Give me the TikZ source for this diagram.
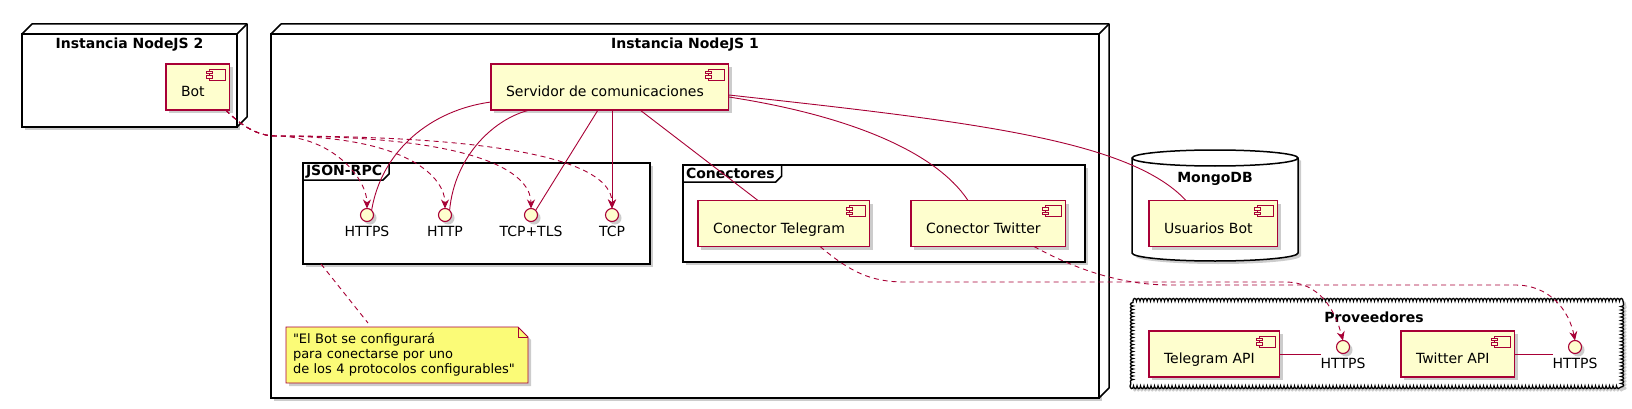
\documentclass[tikz,border=0pt]{standalone}
\usepackage{fontspec}
\setmainfont{DejaVu Sans}
\newfontfamily\plainfam{DejaVu Sans}
\usetikzlibrary{arrows.meta,positioning,shadows,decorations.pathmorphing}

\definecolor{umlred}{HTML}{A80036}
\definecolor{umlfill}{HTML}{FEFECE}
\definecolor{notefill}{HTML}{FBFB77}
\newcommand{\txtfont}{\fontsize{14}{17}\selectfont}
\newcommand{\ttlfont}{\fontsize{14}{17}\selectfont\bfseries}
\newcommand{\notefont}{\plainfam\fontsize{13}{15}\selectfont}

\begin{document}
\begin{tikzpicture}[x=1pt,y=-1pt,every node/.style={outer sep=0pt},
 umlshadow/.style={drop shadow={shadow xshift=3pt,shadow yshift=-3pt,opacity=0.2,fill=black}},
 nodebox/.style={draw,line width=1.5pt,fill=white,umlshadow,anchor=north west,inner sep=0pt},
 pkgframe/.style={draw,line width=1.5pt,fill=white,umlshadow,anchor=north west,inner sep=0pt},
 pkgtab/.style={font=\ttlfont,anchor=north west,inner xsep=3pt,inner ysep=0pt,
  minimum height=17pt,execute at end node={\hspace*{4pt}}},
 nodetitle/.style={font=\ttlfont,inner sep=0pt},
 comp/.style={draw=umlred,fill=umlfill,line width=1.1pt,umlshadow,anchor=west,
  minimum height=46pt,inner xsep=0pt,text height=22pt,text depth=3pt,font=\txtfont,
  execute at begin node={\hspace*{15pt}},execute at end node={\hspace*{25pt}}},
 iface/.style={circle,draw=umlred,fill=umlfill,line width=1.1pt,minimum size=13pt,
  inner sep=0pt,umlshadow},
 ilabel/.style={font=\txtfont,inner sep=0pt},
 link/.style={umlred,line width=0.9pt},
 arrowtip/.style={-{Stealth[length=9pt,width=8pt,inset=3pt]}},
 dep/.style={link,arrowtip,dash pattern=on 5pt off 4pt},
 compicon/.pic={
  \draw[umlred,fill=umlfill,line width=0.9pt] (-16,0) rectangle (0,11);
  \draw[umlred,fill=umlfill,line width=0.9pt] (-19,2) rectangle (-13,4.5)
   (-19,6.5) rectangle (-13,9);}]

  \useasboundingbox (0,0) rectangle (1632,409);

  % nodos de despliegue
  \node[nodebox,minimum width=215pt,minimum height=93pt] (nj2) at (22,34) {};
  \node[nodebox,minimum width=828pt,minimum height=364pt] (nj1) at (271,34) {};
  \foreach \n in {nj2,nj1}
  {\draw[line width=1.5pt,fill=white,line join=round] (\n.north west) -- ++(10,-10)
    -| ([shift={(10pt,10pt)}]\n.south east) -- (\n.south east) -- (\n.north east) -- cycle;
   \draw[line width=1.5pt] (\n.north east) -- ++(10,-10);
  }
  \node[nodetitle] (nj2lbl) at ([yshift=-11pt]nj2.north) {Instancia NodeJS 2};
  \node[nodetitle] (nj1lbl) at ([yshift=-11pt]nj1.north) {Instancia NodeJS 1};

  % nota
  \draw[draw=umlred,fill=notefill,line width=0.9pt,umlshadow] (286,327) -- (518,327)
   -- (528,337) -- (528,383) -- (286,383) -- cycle;
  \draw[umlred,line width=0.9pt] (518,327) |- (528,337);
  \node[font=\notefont,align=left,anchor=north west,text width=228pt,inner xsep=7pt,
   inner ysep=0pt,minimum height=56pt] (note) at (286,327)
   {"El Bot se configurará\\para conectarse por uno\\de los 4 protocolos configurables"};

  % paquetes
  \node[pkgframe,minimum width=347pt,minimum height=101pt] (jrpc) at (303,163) {};
  \node[pkgtab] (jrpctab) at (jrpc.north west) {JSON-RPC};
  \node[pkgframe,minimum width=402pt,minimum height=97pt] (conn) at (683,165) {};
  \node[pkgtab] (conntab) at (conn.north west) {Conectores};
  \foreach \t in {jrpctab,conntab}
   \draw[line width=1.5pt] (\t.north east) -- ([yshift=6pt]\t.south east)
    -- ([xshift=-6pt]\t.south east) -- (\t.south west);

  % base de datos
  \draw[line width=1.5pt,fill=white,umlshadow] (1132,158)
   arc[start angle=180,end angle=0,x radius=83pt,y radius=8pt] -- (1298,253)
   arc[start angle=0,end angle=-180,x radius=83pt,y radius=8pt] -- cycle;
  \draw[line width=1.5pt] (1132,158) arc[start angle=180,end angle=360,x radius=83pt,y radius=8pt];
  \node[nodetitle] (mongolbl) at (1215,179) {MongoDB};

  % nube
  \draw[line width=1.3pt,fill=white,umlshadow,decorate,
   decoration={bumps,segment length=7pt,amplitude=2.6pt}]
   (1133,301) -- (1621,301) -- (1621,386) -- (1133,386) -- cycle;
  \node[nodetitle] (provlbl) at (1374,317) {Proveedores};

  % componentes
  \node[comp] (bot) at (166,87) {Bot};
  \node[comp] (serv) at (491,87) {Servidor de comunicaciones};
  \node[comp] (ctel) at (698,223.5) {Conector Telegram};
  \node[comp] (ctw) at (911,223.5) {Conector Twitter};
  \node[comp] (ubot) at (1149,223.5) {Usuarios Bot};
  \node[comp] (tgapi) at (1149,354) {Telegram API};
  \node[comp] (twapi) at (1401,354) {Twitter API};
  \foreach \c in {bot,serv,ctel,ctw,ubot,tgapi,twapi}
   \pic at ([xshift=-4pt,yshift=-5pt]\c.north east) {compicon};

  % interfaces
  \node[iface] (ihttps) at (367,215) {};
  \node[iface] (ihttp) at (445,215) {};
  \node[iface] (itls) at (531,215) {};
  \node[iface] (itcp) at (612,215) {};
  \node[iface] (pvtel) at (1343,347) {};
  \node[iface] (pvtw) at (1575,347) {};
  \node[ilabel,below=5pt of ihttps] (ihttpslbl) {HTTPS};
  \node[ilabel,below=5pt of ihttp] (ihttplbl) {HTTP};
  \node[ilabel,below=5pt of itls] (itlslbl) {TCP+TLS};
  \node[ilabel,below=5pt of itcp] (itcplbl) {TCP};
  \node[ilabel,below=4.5pt of pvtel] (pvtellbl) {HTTPS};
  \node[ilabel,below=4.5pt of pvtw] (pvtwlbl) {HTTPS};

  % conexiones
  \coordinate (fan) at (276,136);
  \foreach \i in {ihttps,ihttp,itls,itcp}
   \draw[dep] ([xshift=-4pt]bot.south east) .. controls +(14,14) and +(-20,0) .. (fan)
    .. controls ([xshift=-35pt]\i.north |- fan) and ([yshift=30pt]\i.north) .. (\i.north);

  \draw[link] ([yshift=-15pt]serv.west) .. controls +(-60,8) and +(10,-60) .. (ihttps.north east);
  \draw[link] ([xshift=39pt]serv.south west) .. controls +(-35,8) and +(5,-55) .. (ihttp.north east);
  \draw[link] ([xshift=107pt]serv.south west) -- (itls.north east);
  \draw[link,arrowtip] (itcp |- serv.south) -- (itcp.north);
  \draw[link] ([xshift=149pt]serv.south west) -- ([xshift=60pt]ctel.north west);
  \draw[link] ([yshift=-10pt]serv.east) .. controls +(117,18) and +(-33,-50) .. ([xshift=57pt]ctw.north west);
  \draw[link] ([yshift=-8pt]serv.east) .. controls +(247,27) and +(-56,-60) .. ([xshift=37pt]ubot.north west);

  \draw[dep] ([xshift=122pt]ctel.south west) .. controls +(30,25) and +(-35,0) .. (905,282)
   -- (1285,282) .. controls +(35,0) and +(-8,-30) .. (pvtel.north);
  \draw[dep] ([xshift=123pt]ctw.south west) .. controls +(40,22) and +(-50,0) .. (1170,285)
   -- (1515,285) .. controls +(35,0) and +(-6,-30) .. (pvtw.north);

  \draw[link,dash pattern=on 5pt off 4pt] ([xshift=18pt]jrpc.south west) -- ([xshift=82pt,yshift=4pt]note.north west);
  \draw[link] (tgapi.east) -- (pvtellbl.west |- tgapi.east);
  \draw[link] (twapi.east) -- (pvtwlbl.west |- twapi.east);

\end{tikzpicture}
\end{document}
